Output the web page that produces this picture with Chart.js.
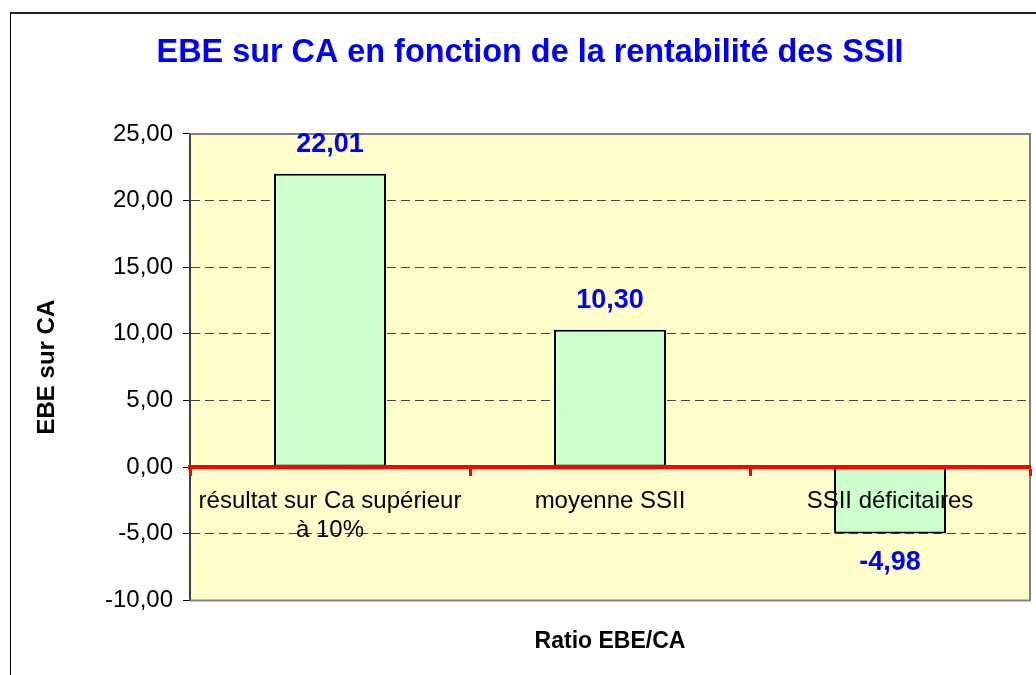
<!DOCTYPE html>
<html>
<head>
<meta charset="utf-8">
<script src="https://cdn.jsdelivr.net/npm/chart.js@4/dist/chart.umd.min.js"></script>
<style>
  html, body { margin: 0; padding: 0; background: #fff; overflow: hidden; }
  #frame { position: absolute; left: 10px; top: 12px; width: 2000px; height: 2000px;
           border-left: 1px solid #000; border-top: 2px solid #222; }
  #c { position: absolute; left: 0; top: 0; }
</style>
</head>
<body>
<div id="frame"></div>
<canvas id="c" width="1036" height="675"></canvas>
<script>
const chartTitle = "EBE sur CA en fonction de la rentabilité des SSII";
const categories = [["résultat sur Ca supérieur", "à 10%"], "moyenne SSII", "SSII déficitaires"];
const values = [22.01, 10.30, -4.98];
const yAxisTitle = "EBE sur CA";
const xAxisTitle = "Ratio EBE/CA";
const yMin = -10, yMax = 25, yStep = 5;

const FONT = "'Liberation Sans', Arial, Helvetica, sans-serif";
const fmt = v => Number(v).toFixed(2).replace('.', ',');

const plotBg = {
  id: 'plotBg',
  beforeDraw(chart) {
    const {ctx, chartArea: a} = chart;
    ctx.save();
    ctx.fillStyle = '#FFFFCC';
    ctx.fillRect(a.left, a.top, a.right - a.left, a.bottom - a.top);
    ctx.restore();
  },
  beforeDatasetsDraw(chart) {
    const {ctx, chartArea: a} = chart;
    ctx.save();
    ctx.strokeStyle = '#808080';
    ctx.lineWidth = 2;
    ctx.beginPath();
    ctx.moveTo(a.left, a.top);
    ctx.lineTo(a.right, a.top);
    ctx.lineTo(a.right, a.bottom);
    ctx.lineTo(a.left, a.bottom);
    ctx.stroke();
    ctx.restore();
  }
};

const valueLabels = {
  id: 'valueLabels',
  afterDraw(chart) {
    const {ctx} = chart;
    const meta = chart.getDatasetMeta(0);
    ctx.save();
    ctx.font = "bold 27px " + FONT;
    ctx.fillStyle = '#0000FF';
    ctx.textAlign = 'center';
    ctx.textBaseline = 'middle';
    meta.data.forEach((bar, i) => {
      const v = chart.data.datasets[0].data[i];
      const y = v >= 0 ? bar.y - 29 : bar.y + 29;
      ctx.fillText(fmt(v), bar.x, y);
    });
    ctx.restore();
  }
};

new Chart(document.getElementById('c'), {
  type: 'bar',
  data: {
    labels: categories,
    datasets: [{
      data: values,
      backgroundColor: '#CCFFCC',
      borderColor: '#000000',
      borderWidth: 2,
      borderSkipped: false,
      categoryPercentage: 1.0,
      barPercentage: 0.4,
      xAxisID: 'x',
      yAxisID: 'y'
    }]
  },
  options: {
    responsive: false,
    animation: false,
    events: [],
    layout: { padding: { left: 30, right: 6, top: 0, bottom: 0 } },
    plugins: {
      legend: { display: false },
      tooltip: { enabled: false },
      title: {
        display: true,
        text: chartTitle,
        color: '#0000FF',
        font: { family: FONT, size: 32.4, weight: 'bold', lineHeight: 1.2 },
        padding: { top: 34, bottom: 61 }
      }
    },
    scales: {
      x: {
        type: 'category',
        position: { y: 0 },
        offset: true,
        grid: {
          display: true,
          offset: true,
          drawOnChartArea: false,
          drawTicks: true,
          tickLength: 7,
          tickWidth: 3,
          tickColor: '#FF0000',
          color: '#FF0000',
          z: 1
        },
        border: { display: true, color: '#FF0000', width: 4, z: 1 },
        ticks: {
          color: '#000',
          padding: 13,
          maxRotation: 0,
          minRotation: 0,
          autoSkip: false,
          z: 2,
          font: { family: FONT, size: 24, lineHeight: 1.21 }
        }
      },
      x2: {
        type: 'category',
        position: 'bottom',
        labels: categories,
        grid: { display: false, drawTicks: false },
        border: { display: false },
        ticks: { display: false },
        title: {
          display: true,
          text: xAxisTitle,
          color: '#000',
          font: { family: FONT, size: 23, weight: 'bold', lineHeight: 1.2 },
          padding: { top: 27, bottom: 20 }
        }
      },
      y: {
        type: 'linear',
        position: 'left',
        min: yMin,
        max: yMax,
        afterFit(scale) { scale.width = 160; },
        ticks: {
          stepSize: yStep,
          color: '#000',
          padding: 10,
          font: { family: FONT, size: 24 },
          callback: v => fmt(v)
        },
        grid: {
          color: '#444444',
          lineWidth: 1,
          drawTicks: true,
          tickLength: 7,
          tickColor: '#000',
          tickWidth: 1
        },
        border: { display: true, color: '#404040', width: 2, dash: [9, 5] },
        title: {
          display: true,
          text: yAxisTitle,
          color: '#000',
          font: { family: FONT, size: 24, weight: 'bold', lineHeight: 1.2 },
          padding: { top: 3, bottom: 0 }
        }
      }
    }
  },
  plugins: [plotBg, valueLabels]
});
</script>
</body>
</html>
